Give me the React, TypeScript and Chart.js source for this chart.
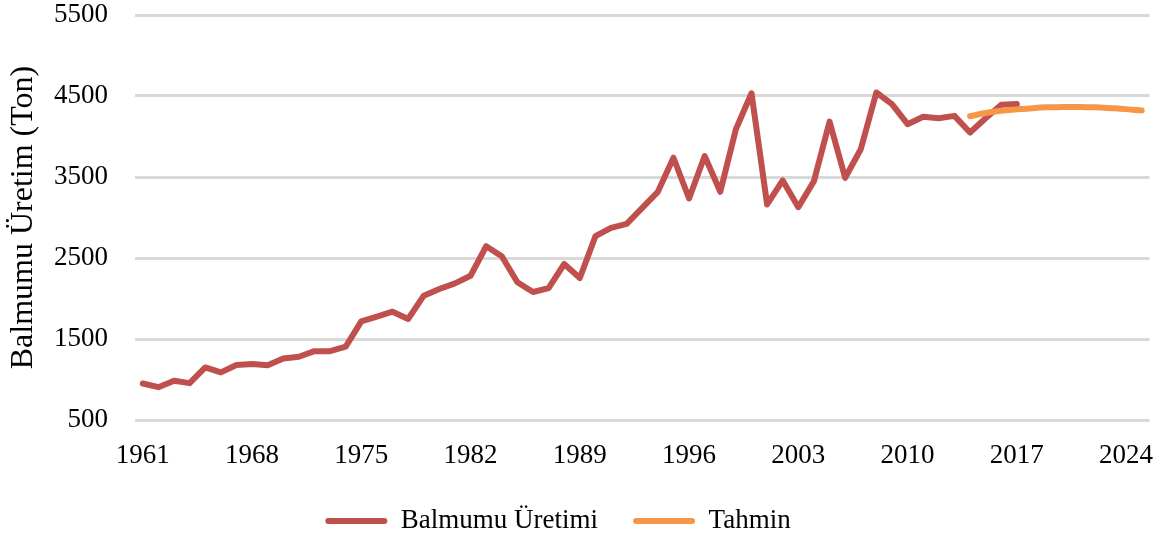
import React, { useEffect, useRef } from 'react';
import { Chart, registerables } from 'chart.js';

Chart.register(...registerables);

// Categories (years)
const firstYear = 1961;
const lastYear = 2025;
const years: string[] = Array.from({ length: lastYear - firstYear + 1 }, (_, i) => String(firstYear + i));

// Balmumu Üretimi 1961–2017 (ton)
const productionStart = 1961;
const production: number[] = [
  951, 905, 985, 955, 1149, 1088, 1179, 1191, 1175, 1260,
  1281, 1350, 1350, 1405, 1717, 1775, 1837, 1747, 2035, 2117,
  2186, 2281, 2645, 2521, 2200, 2080, 2129, 2426, 2253, 2769,
  2871, 2921, 3119, 3317, 3738, 3235, 3759, 3317, 4089, 4534,
  3161, 3458, 3127, 3449, 4183, 3490, 3843, 4543, 4400, 4152,
  4243, 4226, 4255, 4049, 4226, 4391, 4400,
];

// Tahmin 2014–2025 (ton)
const forecastStart = 2014;
const forecast: number[] = [4250, 4290, 4318, 4335, 4350, 4360, 4365, 4365, 4360, 4350, 4338, 4320];

// Y axis ticks
const yMin = 500;
const yMax = 5500;
const yStep = 1000;
const xLabelEvery = 7;

const seriesLabels = ['Balmumu Üretimi', 'Tahmin'];
const yTitle = 'Balmumu Üretim (Ton)';

function alignToYears(values: number[], start: number): (number | null)[] {
  return years.map((y) => {
    const idx = Number(y) - start;
    return idx >= 0 && idx < values.length ? values[idx] : null;
  });
}

const FONT = '"Liberation Serif", "Times New Roman", serif';

export default function App() {
  const canvasRef = useRef<HTMLCanvasElement | null>(null);

  useEffect(() => {
    document.body.style.margin = '0';
    const canvas = canvasRef.current;
    if (!canvas) return;
    const chart = new Chart(canvas, {
      type: 'line',
      data: {
        labels: years,
        datasets: [
          {
            label: seriesLabels[0],
            data: alignToYears(production, productionStart),
            borderColor: '#c0504d',
            backgroundColor: '#c0504d',
            borderWidth: 6,
            pointRadius: 0,
            tension: 0,
            borderCapStyle: 'round',
            borderJoinStyle: 'round',
            spanGaps: false,
            order: 1,
          },
          {
            label: seriesLabels[1],
            data: alignToYears(forecast, forecastStart),
            borderColor: '#f79646',
            backgroundColor: '#f79646',
            borderWidth: 6,
            pointRadius: 0,
            tension: 0.4,
            borderCapStyle: 'round',
            borderJoinStyle: 'round',
            order: 0,
          },
        ],
      },
      options: {
        responsive: false,
        animation: false,
        devicePixelRatio: 1,
        layout: {
          padding: { top: 15, right: 15.5, bottom: -9.5, left: -33.5 },
        },
        plugins: {
          tooltip: { enabled: false },
          legend: {
            display: true,
            position: 'bottom',
            labels: {
              font: { family: FONT, size: 27 },
              color: '#000',
              boxWidth: 62,
              boxHeight: 6,
              padding: 35,
              sort: (a: any, b: any) => a.datasetIndex - b.datasetIndex,
              generateLabels: (c: any) => {
                const items = (Chart as any).defaults.plugins.legend.labels.generateLabels(c);
                return items.map((it: any) => ({
                  ...it,
                  fillStyle: it.strokeStyle,
                  lineWidth: 0,
                  borderRadius: 3,
                }));
              },
            },
          },
        },
        scales: {
          x: {
            type: 'category',
            offset: true,
            grid: { display: false, drawTicks: false },
            border: { display: false },
            ticks: {
              autoSkip: false,
              maxRotation: 0,
              minRotation: 0,
              padding: 20,
              color: '#000',
              font: { family: FONT, size: 27, lineHeight: 1.2 },
              callback: function (this: any, val: any, index: number) {
                return index % xLabelEvery === 0 ? this.getLabelForValue(val) : '';
              },
            },
            afterFit: (scale: any) => {
              scale.height = 52.5;
            },
          },
          y: {
            min: yMin,
            max: yMax,
            grid: {
              color: '#d9d9d9',
              lineWidth: 3,
              drawTicks: true,
              tickLength: 27,
              tickColor: 'rgba(0,0,0,0)',
            },
            border: { display: false },
            ticks: {
              stepSize: yStep,
              padding: 0,
              color: '#000',
              font: { family: FONT, size: 27, lineHeight: 1 },
              callback: (v: any) => String(v),
            },
            title: {
              display: true,
              text: yTitle,
              color: '#000',
              font: { family: FONT, size: 32, lineHeight: 1.2 },
              padding: { top: 38.3, bottom: 0 },
            },
            afterFit: (scale: any) => {
              scale.width = 168.5;
            },
          },
        },
      },
    } as any);
    return () => chart.destroy();
  }, []);

  return (
    <div style={{ width: 1165, height: 535, position: 'relative' }}>
      <canvas ref={canvasRef} width={1165} height={535} style={{ display: 'block' }} />
    </div>
  );
}
